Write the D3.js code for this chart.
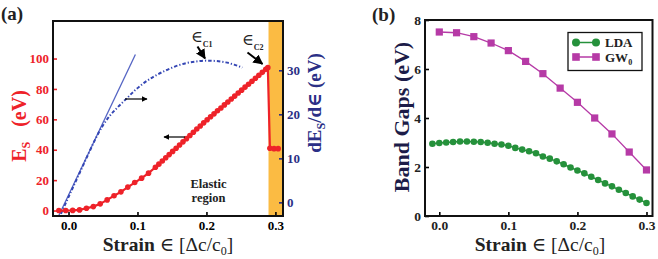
<!DOCTYPE html>
<html>
<head>
<meta charset="utf-8">
<script src="https://cdn.jsdelivr.net/npm/d3@7"></script>
<style>
  body { margin: 0; background: #fff; }
  svg text { font-family: "Liberation Serif", "DejaVu Serif", serif; }
</style>
</head>
<body>
<div id="chart"></div>
<script>
// panel (a): strain energy and its derivative
const strainEs = [-0.014, -0.004, 0.006, 0.016, 0.026, 0.036, 0.046, 0.056, 0.066, 0.076, 0.086, 0.096, 0.106, 0.116, 0.126,
    0.131, 0.136, 0.141, 0.146, 0.151, 0.156, 0.161, 0.166, 0.171, 0.176, 0.181, 0.186, 0.191, 0.196, 0.201, 0.206,
    0.211, 0.216, 0.221, 0.226, 0.231, 0.236, 0.241, 0.246, 0.251, 0.256, 0.261, 0.266, 0.271, 0.276, 0.281, 0.286,
    0.289, 0.292, 0.298, 0.304];
const energyEs = [0, 0, 0.1, 0.4, 1.5, 2.6, 4.4, 7.0, 9.7, 12.3, 15.4, 18.4, 21.3, 24.6, 28.5,
    30.5, 32.6, 34.7, 36.8, 38.9, 41.0, 43.1, 45.2, 47.3, 49.4, 51.5, 53.6, 55.6, 57.7, 59.7, 61.7,
    63.6, 65.6, 67.5, 69.5, 71.4, 73.4, 75.3, 77.3, 79.2, 81.2, 83.1, 85.1, 87.0, 89.0, 90.9, 92.9,
    94.0, 41.0, 40.7, 40.7];

const strainSlope = [-0.011, 0.0, 0.01, 0.02, 0.03, 0.04, 0.05, 0.06, 0.07, 0.083, 0.096, 0.110, 0.125,
    0.140, 0.155, 0.170, 0.185, 0.200, 0.215, 0.228, 0.240, 0.252];
const slopeVals = [-2.6, 1.2, 4.6, 8.0, 11.4, 14.7, 17.5, 19.7, 21.4, 23.4, 25.4, 27.2, 28.7,
    29.9, 30.9, 31.6, 32.0, 32.2, 32.1, 31.8, 31.3, 30.6];

const fitStrain = [-0.015, 0.097];
const fitSlope = [-3.3, 33.6];

const plasticStart = 0.29;

const esTicks = [0, 20, 40, 60, 80, 100];
const slopeTicks = [0, 10, 20, 30];
const strainTicks = [0.0, 0.1, 0.2, 0.3];

// panel (b): band gaps
const strainLDA = [-0.01, 0.00, 0.01, 0.02, 0.03, 0.04, 0.05, 0.06, 0.07, 0.08, 0.09, 0.10, 0.11, 0.12, 0.13, 0.14,
    0.15, 0.16, 0.17, 0.18, 0.19, 0.20, 0.21, 0.22, 0.23, 0.24, 0.25, 0.26, 0.27, 0.28, 0.29, 0.30];
const gapLDA = [2.95, 2.98, 3.00, 3.02, 3.04, 3.04, 3.03, 3.02, 2.99, 2.95, 2.92, 2.87, 2.78, 2.71, 2.64, 2.56,
    2.43, 2.34, 2.23, 2.11, 1.98, 1.86, 1.74, 1.60, 1.47, 1.33, 1.21, 1.07, 0.94, 0.80, 0.67, 0.53];

const strainGW = [0.0, 0.025, 0.05, 0.075, 0.1, 0.125, 0.15, 0.175, 0.2, 0.225, 0.25, 0.275, 0.3];
const gapGW = [7.51, 7.48, 7.32, 7.06, 6.75, 6.31, 5.81, 5.22, 4.64, 4.00, 3.35, 2.61, 1.88];

const gapTicks = [0, 2, 4, 6, 8];

const red = "#ee2229", blue = "#3446b4", navy = "#2b2f86", orange = "#fbbb43",
      green = "#25913b", magenta = "#b63aa6";

const svg = d3.select("#chart").append("svg")
    .attr("width", 658)
    .attr("height", 259);

const defs = svg.append("defs");
defs.append("marker")
    .attr("id", "head")
    .attr("viewBox", "0 0 10 10")
    .attr("refX", 9).attr("refY", 5)
    .attr("markerWidth", 5).attr("markerHeight", 5)
    .attr("orient", "auto")
    .append("path")
    .attr("d", "M0,0L10,5L0,10z")
    .attr("fill", "#000");

// ---------- panel (a)
const A = { left: 53, right: 283, top: 21, bottom: 216 };

const xA = d3.scaleLinear().domain([-0.0225, 0.311]).range([A.left, A.right]);
const yEs = d3.scaleLinear().domain([-3.6, 124.7]).range([A.bottom, A.top]);
const ySlope = d3.scaleLinear().domain([-3.1, 41.2]).range([A.bottom, A.top]);

defs.append("clipPath").attr("id", "clipA")
    .append("rect")
    .attr("x", A.left).attr("y", A.top)
    .attr("width", A.right - A.left).attr("height", A.bottom - A.top);

const gA = svg.append("g");
const plotA = gA.append("g").attr("clip-path", "url(#clipA)");

plotA.append("rect")
    .attr("x", xA(plasticStart))
    .attr("y", A.top)
    .attr("width", A.right - xA(plasticStart))
    .attr("height", A.bottom - A.top)
    .attr("fill", orange);

// linear fit of the elastic slope
plotA.append("line")
    .attr("x1", xA(fitStrain[0])).attr("y1", ySlope(fitSlope[0]))
    .attr("x2", xA(fitStrain[1])).attr("y2", ySlope(fitSlope[1]))
    .attr("stroke", "#5565c4")
    .attr("stroke-width", 1.3);

const slopeLine = d3.line()
    .x((d, i) => xA(strainSlope[i]))
    .y(d => ySlope(d))
    .curve(d3.curveMonotoneX);

plotA.append("path")
    .datum(slopeVals)
    .attr("d", slopeLine)
    .attr("fill", "none")
    .attr("stroke", blue)
    .attr("stroke-width", 2)
    .attr("stroke-dasharray", "3.5,2,1.2,2");

const esLine = d3.line()
    .x((d, i) => xA(strainEs[i]))
    .y(d => yEs(d));

plotA.append("path")
    .datum(energyEs)
    .attr("d", esLine)
    .attr("fill", "none")
    .attr("stroke", red)
    .attr("stroke-width", 2.2);

plotA.selectAll(".es-dot")
    .data(energyEs)
    .enter().append("circle")
    .attr("class", "es-dot")
    .attr("cx", (d, i) => xA(strainEs[i]))
    .attr("cy", d => yEs(d))
    .attr("r", 2.8)
    .attr("fill", red);

// axes
const axLeftA = gA.append("g")
    .attr("transform", `translate(${A.left},0)`)
    .call(d3.axisLeft(yEs).tickValues(esTicks).tickSize(-4).tickPadding(4));
axLeftA.select(".domain").remove();
axLeftA.selectAll("line").attr("stroke", red).attr("stroke-width", 1.6);
axLeftA.selectAll("text").attr("fill", red);

const axRightA = gA.append("g")
    .attr("transform", `translate(${A.right},0)`)
    .call(d3.axisRight(ySlope).tickValues(slopeTicks).tickSize(-4).tickPadding(4));
axRightA.select(".domain").remove();
axRightA.selectAll("line").attr("stroke", navy).attr("stroke-width", 1.6);
axRightA.selectAll("text").attr("fill", navy);

const axBottomA = gA.append("g")
    .attr("transform", `translate(0,${A.bottom})`)
    .call(d3.axisBottom(xA).tickValues(strainTicks).tickFormat(d3.format(".1f")).tickSize(-4).tickPadding(5));
axBottomA.select(".domain").remove();
axBottomA.selectAll("line").attr("stroke", "#000").attr("stroke-width", 1.6);

gA.selectAll(".tick text")
    .attr("font-family", "Liberation Serif, serif")
    .attr("font-size", 13)
    .attr("font-weight", "bold");

gA.append("rect")
    .attr("x", A.left).attr("y", A.top)
    .attr("width", A.right - A.left).attr("height", A.bottom - A.top)
    .attr("fill", "none")
    .attr("stroke", "#111")
    .attr("stroke-width", 2);

// titles
const esTitle = gA.append("text")
    .attr("transform", "translate(26,126) rotate(-90)")
    .attr("text-anchor", "middle")
    .attr("fill", red)
    .attr("font-size", 20)
    .attr("font-weight", "bold");
esTitle.append("tspan").text("E");
esTitle.append("tspan").attr("font-size", 12).attr("dy", 4).text("S");
esTitle.append("tspan").attr("dy", -4).attr("dx", 10).text(" (eV)");

const slopeTitle = gA.append("text")
    .attr("transform", "translate(321,103) rotate(-90)")
    .attr("text-anchor", "middle")
    .attr("fill", navy)
    .attr("font-size", 19)
    .attr("font-weight", "bold");
slopeTitle.append("tspan").text("dE");
slopeTitle.append("tspan").attr("font-size", 12).attr("dy", 4).text("S");
slopeTitle.append("tspan").attr("dy", -4).text("/d\u2208 (eV)");

function strainTitle(g, cx) {
    const t = g.append("text")
        .attr("x", cx).attr("y", 251)
        .attr("text-anchor", "middle")
        .attr("fill", "#222")
        .attr("font-size", 19.5);
    t.append("tspan").attr("font-weight", "bold").text("Strain ");
    t.append("tspan").text("\u2208 [\u0394c/c");
    t.append("tspan").attr("font-size", 12).attr("dy", 4).text("0");
    t.append("tspan").attr("dy", -4).text("]");
}
strainTitle(gA, 168);

gA.append("text")
    .attr("x", 1).attr("y", 20)
    .attr("font-size", 19)
    .attr("font-weight", "bold")
    .attr("fill", "#222")
    .text("(a)");

// annotations
function critLabel(x, y, sub, arrow) {
    const t = gA.append("text").attr("x", x).attr("y", y).attr("font-size", 16).attr("fill", "#222");
    t.append("tspan").text("\u2208");
    t.append("tspan").attr("font-size", 8).attr("font-weight", "bold").attr("dy", 5).text(sub);
    gA.append("line")
        .attr("x1", arrow[0]).attr("y1", arrow[1])
        .attr("x2", arrow[2]).attr("y2", arrow[3])
        .attr("stroke", "#000").attr("stroke-width", 2)
        .attr("marker-end", "url(#head)");
}
critLabel(191, 42, "C1", [197.5, 46.5, 205, 58.5]);
critLabel(242, 45, "C2", [247.5, 52.5, 262.5, 64]);

gA.append("line")
    .attr("x1", 125).attr("y1", 99).attr("x2", 147).attr("y2", 99)
    .attr("stroke", "#000").attr("stroke-width", 1.2)
    .attr("marker-end", "url(#head)");
gA.append("line")
    .attr("x1", 185).attr("y1", 137).attr("x2", 164).attr("y2", 137)
    .attr("stroke", "#000").attr("stroke-width", 1.2)
    .attr("marker-end", "url(#head)");

gA.append("text")
    .attr("x", 208.5).attr("y", 188)
    .attr("text-anchor", "middle")
    .attr("font-size", 12.5).attr("font-weight", "bold").attr("fill", "#222")
    .text("Elastic");
gA.append("text")
    .attr("x", 208.5).attr("y", 202)
    .attr("text-anchor", "middle")
    .attr("font-size", 12.5).attr("font-weight", "bold").attr("fill", "#222")
    .text("region");

// ---------- panel (b)
const B = { left: 425, right: 652.5, top: 20, bottom: 216 };

const xB = d3.scaleLinear().domain([-0.0207, 0.3087]).range([B.left, B.right]);
const yB = d3.scaleLinear().domain([0, 8]).range([B.bottom, B.top]);

const gB = svg.append("g");

const gwLine = d3.line()
    .x((d, i) => xB(strainGW[i]))
    .y(d => yB(d));
gB.append("path")
    .datum(gapGW)
    .attr("d", gwLine)
    .attr("fill", "none")
    .attr("stroke", magenta)
    .attr("stroke-width", 1.3);
gB.selectAll(".gw")
    .data(gapGW)
    .enter().append("rect")
    .attr("class", "gw")
    .attr("x", (d, i) => xB(strainGW[i]) - 3.6)
    .attr("y", d => yB(d) - 3.6)
    .attr("width", 7.2).attr("height", 7.2)
    .attr("fill", magenta);

const ldaLine = d3.line()
    .x((d, i) => xB(strainLDA[i]))
    .y(d => yB(d));
gB.append("path")
    .datum(gapLDA)
    .attr("d", ldaLine)
    .attr("fill", "none")
    .attr("stroke", green)
    .attr("stroke-width", 1.5);
gB.selectAll(".lda")
    .data(gapLDA)
    .enter().append("circle")
    .attr("class", "lda")
    .attr("cx", (d, i) => xB(strainLDA[i]))
    .attr("cy", d => yB(d))
    .attr("r", 3.3)
    .attr("fill", green);

const axLeftB = gB.append("g")
    .attr("transform", `translate(${B.left},0)`)
    .call(d3.axisLeft(yB).tickValues(gapTicks).tickSize(-4).tickPadding(4));
axLeftB.select(".domain").remove();

const axBottomB = gB.append("g")
    .attr("transform", `translate(0,${B.bottom})`)
    .call(d3.axisBottom(xB).tickValues(strainTicks).tickFormat(d3.format(".1f")).tickSize(-4).tickPadding(4));
axBottomB.select(".domain").remove();

gB.selectAll(".tick line").attr("stroke", "#000").attr("stroke-width", 1.6);
gB.selectAll(".tick text")
    .attr("fill", "#222")
    .attr("font-family", "Liberation Serif, serif")
    .attr("font-size", 13.5)
    .attr("font-weight", "bold");

gB.append("rect")
    .attr("x", B.left).attr("y", B.top)
    .attr("width", B.right - B.left).attr("height", B.bottom - B.top)
    .attr("fill", "none")
    .attr("stroke", "#111")
    .attr("stroke-width", 2);

gB.append("text")
    .attr("transform", "translate(409,117) rotate(-90)")
    .attr("text-anchor", "middle")
    .attr("fill", "#1c1c48")
    .attr("font-size", 22)
    .attr("font-weight", "bold")
    .text("Band Gaps (eV)");

strainTitle(gB, 540);

gB.append("text")
    .attr("x", 372).attr("y", 21)
    .attr("font-size", 19)
    .attr("font-weight", "bold")
    .attr("fill", "#222")
    .text("(b)");

// legend
const legend = gB.append("g").attr("transform", "translate(568,32.5)");
legend.append("rect")
    .attr("width", 74).attr("height", 38)
    .attr("fill", "#fff")
    .attr("stroke", "#111")
    .attr("stroke-width", 1.3);

const leg1 = legend.append("g").attr("transform", "translate(0,10)");
leg1.append("line").attr("x1", 8).attr("x2", 28).attr("stroke", green).attr("stroke-width", 1.5);
leg1.selectAll("circle").data([8, 28]).enter().append("circle")
    .attr("cx", d => d).attr("r", 4).attr("fill", green);
leg1.append("text").attr("x", 37).attr("y", 4.5)
    .attr("font-size", 13).attr("font-weight", "bold").attr("fill", "#222").text("LDA");

const leg2 = legend.append("g").attr("transform", "translate(0,24.5)");
leg2.append("line").attr("x1", 8).attr("x2", 28).attr("stroke", magenta).attr("stroke-width", 1.5);
leg2.selectAll("rect").data([8, 28]).enter().append("rect")
    .attr("x", d => d - 3.8).attr("y", -3.8)
    .attr("width", 7.6).attr("height", 7.6).attr("fill", magenta);
const gwText = leg2.append("text").attr("x", 37).attr("y", 4.5)
    .attr("font-size", 13).attr("font-weight", "bold").attr("fill", "#222");
gwText.append("tspan").text("GW");
gwText.append("tspan").attr("font-size", 8).attr("dy", 3).text("0");
</script>
</body>
</html>
